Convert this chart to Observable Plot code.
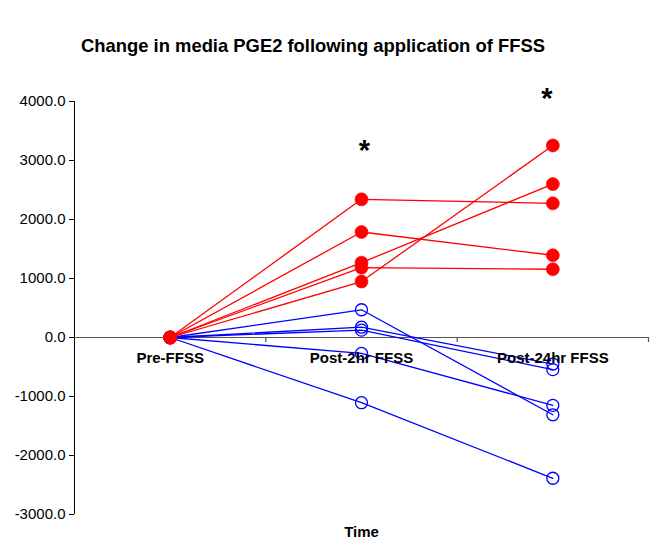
<!DOCTYPE html>
<html>
<head>
<meta charset="utf-8">
<script src="https://cdn.jsdelivr.net/npm/d3@7"></script>
<script src="https://cdn.jsdelivr.net/npm/@observablehq/plot@0.6"></script>
<style>
  html, body { margin: 0; padding: 0; background: #fff; }
  #wrap { position: relative; width: 650px; height: 539px; overflow: hidden; font-family: "Liberation Sans", Arial, sans-serif; }
  #title { position: absolute; left: 0; top: 0; width: 626px; height: 70px; box-sizing: border-box; padding-top: 37px; text-align: center; font-weight: bold; font-size: 18.4px; line-height: 18px; color: #000; white-space: nowrap; }
  #chart { position: absolute; left: 0; top: 70px; }
</style>
</head>
<body>
<div id="wrap">
  <div id="title">Change in media PGE2 following application of FFSS</div>
  <div id="chart"></div>
</div>
<script>
const timepoints = ["Pre-FFSS", "Post-2hr FFSS", "Post-24hr FFSS"];
// samples where PGE2 increased (red, filled markers)
const increased = [
  [0, 2342, 2274],
  [0, 1788, 1394],
  [0, 1269, 2600],
  [0, 1184, 1157],
  [0, 948, 3255]
];
// samples where PGE2 decreased (blue, open markers)
const decreased = [
  [0, 470, -1310],
  [0, 175, -450],
  [0, 125, -545],
  [0, -270, -1150],
  [0, -1105, -2386]
];
const yTicks = [-3000, -2000, -1000, 0, 1000, 2000, 3000, 4000];
const starTimes = ["Post-2hr FFSS", "Post-24hr FFSS"];
const starValues = [3225, 4100];
const xTitle = "Time";

function rows(series, group) {
  const out = [];
  series.forEach((vals, s) => vals.forEach((v, t) => out.push({ id: group + s, group, t, time: timepoints[t], value: v })));
  return out;
}
const upRows = rows(increased, "up");
const downRows = rows(decreased, "down");
const boundaries = timepoints.map((d, i) => i + 0.5);
const stars = starTimes.map((t, i) => ({ t: timepoints.indexOf(t), value: starValues[i] }));
const starShift = [3, -6];

const chart = Plot.plot({
  width: 650,
  height: 469,
  marginTop: 31,
  marginBottom: 25,
  marginLeft: 74,
  marginRight: 2,
  style: { fontFamily: "Liberation Sans, Arial, sans-serif", color: "#000", background: "#fff" },
  x: { type: "linear", domain: [-0.5, timepoints.length - 0.5], axis: null },
  y: { domain: [-3000, 4000] },
  marks: [
    // y axis line
    Plot.ruleX([-0.5], { y1: -3000, y2: 4000, stroke: "#000", strokeWidth: 1 }),
    Plot.axisY({
      ticks: yTicks, tickFormat: d => d.toFixed(1), tickSize: 5, tickPadding: 4,
      fontSize: 15, stroke: "#000", strokeWidth: 1, label: null
    }),
    // x axis line at zero with tick marks between categories
    Plot.ruleY([0], { x1: -0.5, x2: timepoints.length - 0.5, stroke: "#555", strokeWidth: 1.2 }),
    Plot.ruleX(boundaries, { y1: 0, y2: 0, insetTop: 0, insetBottom: -5, stroke: "#555", strokeWidth: 1.2 }),
    // decreased series
    Plot.line(downRows, { x: "t", y: "value", z: "id", stroke: "#0000ff", strokeWidth: 1.3 }),
    Plot.dot(downRows, { x: "t", y: "value", r: 6, stroke: "#0000ff", strokeWidth: 1.3, fill: "none" }),
    // increased series
    Plot.line(upRows, { x: "t", y: "value", z: "id", stroke: "#ff0000", strokeWidth: 1.3 }),
    Plot.dot(upRows, { x: "t", y: "value", r: 6.5, fill: "#ff0000", stroke: "#ff0000", strokeWidth: 0.6 }),
    // category labels
    Plot.text(timepoints, { x: (d, i) => i, y: 0, text: d => d, dy: 21, lineAnchor: "middle", fontSize: 15, fontWeight: "bold", fill: "#000" }),
    // significance asterisks
    ...stars.map((s, i) => Plot.text([s], { x: "t", y: "value", text: () => "*", dx: starShift[i], dy: 3, fontSize: 29, fontWeight: "bold", fill: "#000", lineAnchor: "middle" })),
    // axis title
    Plot.text([xTitle], { frameAnchor: "bottom", text: d => d, dy: 18, lineAnchor: "middle", fontSize: 15, fontWeight: "bold", fill: "#000" })
  ]
});
document.getElementById("chart").appendChild(chart);
</script>
</body>
</html>
